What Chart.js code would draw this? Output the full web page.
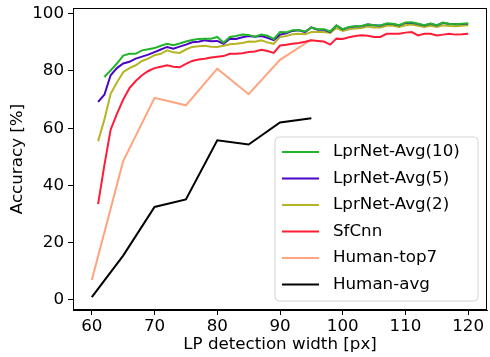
<!DOCTYPE html>
<html>
<head>
<meta charset="utf-8">
<script src="https://cdn.jsdelivr.net/npm/chart.js@4/dist/chart.umd.min.js"></script>
<style>
  html, body { margin: 0; padding: 0; background: #fff; }
  #wrap { width: 490px; height: 357px; }
</style>
</head>
<body>
<div id="wrap"><canvas id="myChart" width="490" height="357"></canvas></div>
<script>
var widths = [61, 62, 63, 64, 65, 66, 67, 68, 69, 70, 71, 72, 73, 74, 75, 76, 77, 78, 79, 80,
              81, 82, 83, 84, 85, 86, 87, 88, 89, 90, 91, 92, 93, 94, 95, 96, 97, 98, 99, 100,
              101, 102, 103, 104, 105, 106, 107, 108, 109, 110, 111, 112, 113, 114, 115, 116, 117, 118, 119, 120];

// Avg(10) has no value at 61
var avg10 = [null, 77.9, 80.2, 82.6, 85.4, 86.0, 86.0, 87.2, 87.6, 88.0, 88.8, 89.5, 89.0, 89.6, 90.3, 90.8, 91.2, 91.3, 91.3, 91.9,
             89.9, 91.9, 92.2, 92.7, 92.6, 92.0, 92.7, 92.3, 91.2, 93.6, 93.5, 94.2, 94.3, 93.8, 95.2, 94.6, 94.6, 93.8, 95.9, 94.6,
             95.4, 95.6, 95.7, 96.3, 96.0, 95.9, 96.6, 96.5, 96.0, 96.9, 97.0, 96.5, 96.0, 96.6, 96.0, 96.9, 96.4, 96.3, 96.5, 96.6];
var avg5 = [69.2, 71.7, 78.5, 81.0, 82.6, 83.2, 84.3, 85.0, 85.7, 86.6, 87.5, 88.4, 87.8, 88.5, 89.2, 90.0, 90.2, 90.7, 90.4, 90.5,
            89.5, 91.3, 91.2, 91.8, 92.2, 92.0, 92.2, 91.6, 90.8, 92.7, 93.2, 94.0, 94.2, 93.6, 95.2, 94.4, 94.4, 93.6, 95.9, 94.5,
            95.3, 95.5, 95.6, 96.2, 96.0, 95.8, 96.5, 96.4, 95.9, 96.8, 96.8, 96.4, 95.9, 96.5, 95.9, 96.8, 96.4, 96.3, 96.4, 96.5];
var avg2 = [55.5, 63.0, 72.0, 76.0, 79.6, 81.0, 82.0, 83.5, 84.3, 85.5, 86.0, 87.2, 86.5, 86.3, 87.5, 88.4, 88.6, 88.8, 88.5, 88.4,
            88.8, 89.3, 89.5, 89.8, 90.3, 90.2, 90.7, 90.0, 89.5, 91.9, 92.2, 92.8, 93.0, 92.8, 93.6, 93.6, 93.6, 93.3, 95.0, 94.0,
            94.6, 94.8, 95.0, 95.5, 95.2, 95.2, 95.8, 95.8, 95.4, 96.0, 96.2, 95.8, 95.4, 95.8, 95.4, 96.0, 95.7, 95.6, 95.8, 96.0];
var sfcnn = [33.5, 47.0, 59.5, 65.0, 70.0, 74.0, 76.5, 78.5, 80.0, 81.0, 81.5, 82.0, 81.5, 81.3, 82.5, 83.5, 84.0, 84.3, 84.7, 85.0,
             85.2, 86.0, 86.0, 86.2, 86.6, 86.8, 87.4, 87.0, 86.3, 88.9, 89.2, 89.5, 89.8, 90.2, 90.7, 90.5, 90.3, 89.2, 91.3, 91.2,
             91.8, 92.2, 92.5, 92.3, 91.9, 91.9, 93.0, 93.0, 93.0, 93.4, 93.6, 92.4, 93.0, 93.0, 92.4, 92.7, 93.0, 92.7, 92.8, 93.0];

var humanWidths = [60, 65, 70, 75, 80, 85, 90, 95];
var humanTop7 = [7.0, 48.5, 70.6, 68.0, 80.8, 71.9, 83.9, 91.0];
var humanAvg = [1.0, 15.5, 32.5, 35.1, 55.8, 54.3, 62.0, 63.5];

var xTicks = [60, 70, 80, 90, 100, 110, 120];
var yTicks = [0, 20, 40, 60, 80, 100];

var FONT = 'DejaVu Sans';
var FSIZE = 16.7;

function points(xs, ys) {
    var out = [];
    for (var i = 0; i < xs.length; i++) {
        if (ys[i] !== null) out.push({x: xs[i], y: ys[i]});
    }
    return out;
}

function series(label, xs, ys, color) {
    return {
        label: label,
        data: points(xs, ys),
        borderColor: color,
        backgroundColor: color,
        borderWidth: 2,
        pointRadius: 0,
        fill: false,
        tension: 0
    };
}

// matplotlib-like legend box in the lower right of the plot
var boxLegend = {
    id: 'boxLegend',
    afterDatasetsDraw: function(chart) {
        var c = chart.ctx;
        var x0 = 275, y0 = 137, w = 203, h = 164, r = 4;
        c.save();
        c.beginPath();
        c.moveTo(x0 + r, y0);
        c.arcTo(x0 + w, y0, x0 + w, y0 + h, r);
        c.arcTo(x0 + w, y0 + h, x0, y0 + h, r);
        c.arcTo(x0, y0 + h, x0, y0, r);
        c.arcTo(x0, y0, x0 + w, y0, r);
        c.closePath();
        c.fillStyle = 'rgba(255,255,255,0.8)';
        c.fill();
        c.strokeStyle = '#d4d4d4';
        c.lineWidth = 1;
        c.stroke();
        c.font = FSIZE + 'px "' + FONT + '"';
        c.textBaseline = 'middle';
        c.fillStyle = '#000';
        chart.data.datasets.forEach(function(ds, i) {
            var y = 152 + i * 26.5;
            c.beginPath();
            c.moveTo(282, y);
            c.lineTo(319, y);
            c.strokeStyle = ds.borderColor;
            c.lineWidth = 2;
            c.stroke();
            c.fillText(ds.label, 333, y);
        });
        c.restore();
    }
};

var frame = {
    id: 'frame',
    afterDraw: function(chart) {
        var a = chart.chartArea, c = chart.ctx;
        c.save();
        c.strokeStyle = '#000';
        c.lineWidth = 1;
        c.strokeRect(a.left + 0.5, a.top + 0.5, a.right - a.left - 1, a.bottom - a.top - 1);
        c.restore();
    }
};

var ctx = document.getElementById('myChart').getContext('2d');
var myChart = new Chart(ctx, {
    type: 'line',
    data: {
        datasets: [
            series('LprNet-Avg(10)', widths, avg10, '#22b52a'),
            series('LprNet-Avg(5)', widths, avg5, '#4a06c4'),
            series('LprNet-Avg(2)', widths, avg2, '#b5b524'),
            series('SfCnn', widths, sfcnn, '#ff1c38'),
            series('Human-top7', humanWidths, humanTop7, '#ffa47e'),
            series('Human-avg', humanWidths, humanAvg, '#000000')
        ]
    },
    options: {
        responsive: false,
        animation: false,
        layout: { padding: { top: 8, right: 3, left: 0, bottom: 0 } },
        plugins: {
            legend: { display: false },
            tooltip: { enabled: false }
        },
        scales: {
            x: {
                type: 'linear',
                min: 57,
                max: 123,
                afterBuildTicks: function(scale) {
                    scale.ticks = xTicks.map(function(v) { return {value: v}; });
                },
                afterFit: function(scale) {
                    scale.height = 47;
                    scale.paddingLeft = 0;
                    scale.paddingRight = 0;
                },
                grid: { drawOnChartArea: false, tickLength: 5, color: '#000', tickColor: '#000' },
                border: { color: '#000' },
                ticks: { color: '#000', padding: 2, maxRotation: 0, font: { family: FONT, size: FSIZE } },
                title: {
                    display: true,
                    text: 'LP detection width [px]',
                    color: '#000',
                    padding: { top: 0, bottom: 2 },
                    font: { family: FONT, size: FSIZE }
                }
            },
            y: {
                min: -3.5,
                max: 102,
                afterBuildTicks: function(scale) {
                    scale.ticks = yTicks.map(function(v) { return {value: v}; });
                },
                afterFit: function(scale) {
                    scale.width = 73;
                    scale.paddingTop = 0;
                    scale.paddingBottom = 0;
                },
                grid: { drawOnChartArea: false, tickLength: 5, color: '#000', tickColor: '#000' },
                border: { color: '#000' },
                ticks: { color: '#000', padding: 4, font: { family: FONT, size: FSIZE } },
                title: {
                    display: true,
                    text: 'Accuracy [%]',
                    color: '#000',
                    padding: { top: 8, bottom: 0 },
                    font: { family: FONT, size: FSIZE }
                }
            }
        }
    },
    plugins: [boxLegend, frame]
});
</script>
</body>
</html>
